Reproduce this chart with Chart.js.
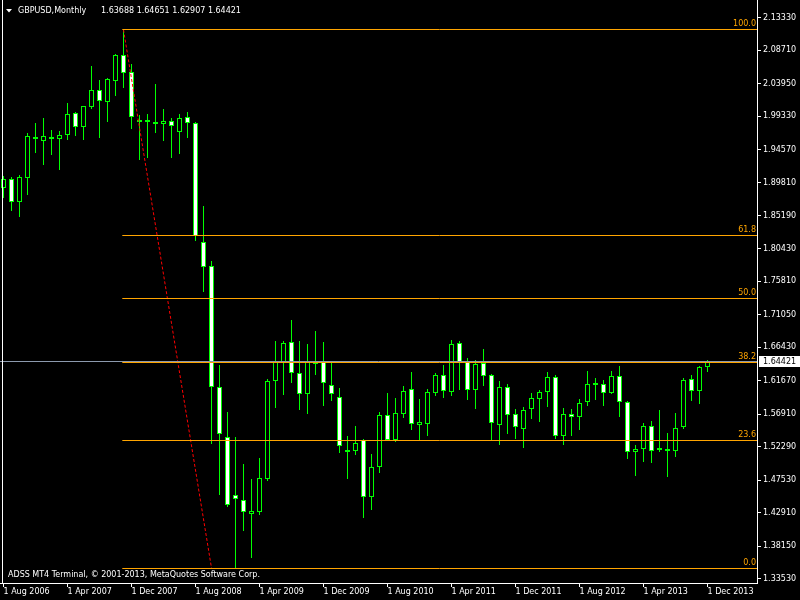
<!DOCTYPE html>
<html lang="en">
<head>
  <meta charset="UTF-8" />
  <title>GBPUSD, Monthly</title>
  <script src="https://cdn.jsdelivr.net/npm/chart.js@4.4.0/dist/chart.umd.min.js"></script>
  <style>
    html, body { margin: 0; padding: 0; background: #000; }
    #chart { display: block; }
  </style>
</head>
<body>
  <canvas id="chart" width="800" height="600"></canvas>

  <script>
    // GBPUSD monthly candles, one per month from Aug 2006 to Dec 2013
    const opens = [
      1.8902, 1.9033, 1.8703, 1.9056, 1.9639, 1.9573, 1.9613, 1.9610, 1.9667, 1.9972,
      1.9781, 2.0066, 2.0299, 2.0137, 2.0435, 2.0797, 2.0555, 1.9841, 1.9848, 1.9824,
      1.9824, 1.9858, 1.9710, 1.9915, 1.9829, 1.8137, 1.7795, 1.6078, 1.5363, 1.4538,
      1.4471, 1.4276, 1.4304, 1.4774, 1.6168, 1.6438, 1.6714, 1.6273, 1.5974, 1.6405,
      1.6430, 1.6103, 1.5932, 1.5149, 1.5172, 1.5329, 1.4518, 1.4936, 1.5676, 1.5329,
      1.5699, 1.6046, 1.5542, 1.5556, 1.5997, 1.6249, 1.6011, 1.6704, 1.6444, 1.6040,
      1.6420, 1.6249, 1.5542, 1.6078, 1.5694, 1.5485, 1.5770, 1.5912, 1.6011, 1.6221,
      1.5386, 1.5694, 1.5656, 1.5869, 1.6111, 1.6121, 1.5997, 1.6235, 1.5865, 1.5149,
      1.5203, 1.5524, 1.5182, 1.5172, 1.5172, 1.5514, 1.6192, 1.6026, 1.63688
    ];
    const highs = [
      1.9080, 1.9066, 1.9094, 1.9687, 1.9829, 1.9901, 1.9734, 1.9720, 2.0114, 1.9994,
      2.0071, 2.0645, 2.0445, 2.0470, 2.0815, 2.1161, 2.0673, 1.9948, 1.9962, 2.0388,
      2.0033, 1.9905, 1.9962, 1.9990, 1.9841, 1.8653, 1.7871, 1.6391, 1.5718, 1.5363,
      1.4983, 1.4770, 1.5068, 1.6192, 1.6733, 1.6733, 1.7031, 1.6733, 1.6690, 1.6875,
      1.6718, 1.6444, 1.6064, 1.5381, 1.5524, 1.5335, 1.5125, 1.5723, 1.5993, 1.5922,
      1.6093, 1.6292, 1.5908, 1.6050, 1.6277, 1.6391, 1.6747, 1.6733, 1.6487, 1.6458,
      1.6619, 1.6263, 1.6164, 1.6121, 1.5765, 1.5794, 1.5993, 1.6036, 1.6292, 1.6249,
      1.5780, 1.5765, 1.5908, 1.6306, 1.6206, 1.6178, 1.6306, 1.6377, 1.5879, 1.5253,
      1.5562, 1.5595, 1.5751, 1.5424, 1.5708, 1.6206, 1.6249, 1.6377, 1.64651
    ];
    const lows = [
      1.8760, 1.8586, 1.8501, 1.8810, 1.9411, 1.9236, 1.9378, 1.9165, 1.9592, 1.9653,
      1.9592, 2.0033, 1.9625, 1.9852, 2.0222, 2.0336, 1.9744, 1.9307, 1.9340, 1.9696,
      1.9578, 1.9340, 1.9397, 1.9625, 1.8159, 1.7434, 1.5263, 1.4542, 1.4376, 1.3503,
      1.4034, 1.3650, 1.4258, 1.4741, 1.5780, 1.5965, 1.6139, 1.5751, 1.5699, 1.6249,
      1.5808, 1.5883, 1.5144, 1.4770, 1.5115, 1.4215, 1.4329, 1.4859, 1.5314, 1.5300,
      1.5637, 1.5467, 1.5324, 1.5381, 1.5950, 1.5922, 1.5950, 1.6036, 1.5893, 1.5765,
      1.6093, 1.5310, 1.5253, 1.5410, 1.5339, 1.5211, 1.5623, 1.5580, 1.5794, 1.5339,
      1.5253, 1.5386, 1.5471, 1.5808, 1.5893, 1.5808, 1.5979, 1.5652, 1.5054, 1.4812,
      1.5016, 1.5001, 1.5154, 1.4802, 1.5087, 1.5485, 1.5879, 1.5836, 1.62907
    ];
    const closes = [
      1.9033, 1.8703, 1.9061, 1.9645, 1.9602, 1.9645, 1.9635, 1.9659, 1.9957, 1.9781,
      2.0071, 2.0299, 2.0151, 2.0455, 2.0797, 2.0541, 1.9915, 1.9862, 1.9855, 1.9852,
      1.9862, 1.9795, 1.9905, 1.9829, 1.8226, 1.7790, 1.6074, 1.5406, 1.4396, 1.4481,
      1.4304, 1.4314, 1.4784, 1.6164, 1.6444, 1.6700, 1.6273, 1.5974, 1.6430, 1.6427,
      1.6131, 1.5974, 1.5235, 1.5178, 1.5286, 1.4518, 1.4936, 1.5676, 1.5329, 1.5704,
      1.6021, 1.5548, 1.5580, 1.6007, 1.6249, 1.6017, 1.6690, 1.6438, 1.6040, 1.6405,
      1.6239, 1.5571, 1.6078, 1.5684, 1.5514, 1.5751, 1.5922, 1.6007, 1.6221, 1.5386,
      1.5694, 1.5656, 1.5851, 1.6121, 1.6121, 1.5997, 1.6235, 1.5861, 1.5147, 1.5196,
      1.5524, 1.5172, 1.5192, 1.5196, 1.5495, 1.6178, 1.6021, 1.6363, 1.64421
    ];

    // time axis: bar index of each label
    const dateTicks = [0, 8, 16, 24, 32, 40, 48, 56, 64, 72, 80, 88];
    const dateLabels = ['1 Aug 2006', '1 Apr 2007', '1 Dec 2007', '1 Aug 2008', '1 Apr 2009', '1 Dec 2009',
      '1 Aug 2010', '1 Apr 2011', '1 Dec 2011', '1 Aug 2012', '1 Apr 2013', '1 Dec 2013'];

    // price axis labels
    const priceTicks = [2.13330, 2.08710, 2.03950, 1.99330, 1.94570, 1.89810, 1.85190, 1.80430, 1.75810,
      1.71050, 1.66430, 1.61670, 1.56910, 1.52290, 1.47530, 1.42910, 1.38150, 1.33530];

    // fibonacci retracement
    const fibLevels = [0, 23.6, 38.2, 50, 61.8, 100];
    const fibHigh = Math.max(...highs);
    const fibLow = Math.min(...lows);
    const fibStart = highs.indexOf(fibHigh);
    const fibEnd = 26;

    const last = closes.length - 1;
    const bid = closes[last];

    const xMin = -0.4375, xMax = 94.1875;
    const yMin = 1.32902, yMax = 2.15834;

    const LIME = '#00ff00';
    const ORANGE = '#ffa500';
    const FONT = '8px "DejaVu Sans"';

    const fibPrice = l => fibLow + (fibHigh - fibLow) * l / 100;

    const bodies = opens.map((o, i) => ({ x: i, y: [Math.min(o, closes[i]), Math.max(o, closes[i])] }));
    const wicks = lows.map((l, i) => ({ x: i, y: [l, highs[i]] }));
    const bodyFill = opens.map((o, i) => closes[i] >= o ? '#000000' : '#ffffff');

    const lineDs = (data, color, extra) => Object.assign({
      type: 'line', data, borderColor: color, borderWidth: 1, pointRadius: 0,
      fill: false, tension: 0, order: 0, snapY: true
    }, extra || {});

    const datasets = [
      {
        type: 'bar', data: bodies, backgroundColor: bodyFill, borderColor: LIME, borderWidth: 1,
        borderSkipped: false, barThickness: 5, minBarLength: 2, grouped: false, inflateAmount: 0, order: 1
      },
      {
        type: 'bar', data: wicks, backgroundColor: LIME, borderWidth: 0,
        barThickness: 1, grouped: false, inflateAmount: 0, order: 2
      },
      lineDs([{ x: xMin, y: bid }, { x: xMax, y: bid }], '#8c9aae'),
      ...fibLevels.map(l => lineDs([{ x: fibStart - 0.15, y: fibPrice(l) }, { x: xMax, y: fibPrice(l) }], ORANGE)),
      lineDs([{ x: fibStart, y: fibHigh }, { x: fibEnd, y: fibLow }], '#ff0000', { borderDash: [3, 2], snapY: false })
    ];

    // MT4 draws on whole pixels: round the element edges the scales gave
    const snap = {
      id: 'snap',
      beforeDatasetsDraw(chart) {
        chart.data.datasets.forEach((ds, i) => {
          const meta = chart.getDatasetMeta(i);
          meta.data.forEach(el => {
            if (meta.type === 'bar') {
              const top = Math.round(Math.min(el.y, el.base));
              let bot = Math.round(Math.max(el.y, el.base));
              const minH = ds.barThickness > 1 ? 2 : 1;
              if (bot - top < minH) bot = top + minH;
              el.y = top;
              el.base = bot;
            } else if (ds.snapY) {
              el.y = Math.floor(el.y) + 0.5;
            }
          });
        });
      }
    };

    // texts that MT4 paints on top of the chart
    const overlay = {
      id: 'overlay',
      afterDraw(chart) {
        const { ctx, chartArea: a, scales: { y } } = chart;
        ctx.save();
        ctx.font = FONT;

        // left window edge
        ctx.fillStyle = '#ffffff';
        ctx.fillRect(2, 0, 1, a.bottom);

        // fib level labels
        ctx.fillStyle = ORANGE;
        ctx.textAlign = 'right';
        ctx.textBaseline = 'bottom';
        fibLevels.forEach(l => {
          ctx.fillText(l.toFixed(1), a.right - 1, Math.floor(y.getPixelForValue(fibPrice(l))) - 1);
        });

        // current price box on the axis
        const py = y.getPixelForValue(bid);
        ctx.fillStyle = '#ffffff';
        ctx.fillRect(a.right + 2, Math.round(py - 5.5), chart.width - a.right - 2, 11);
        ctx.fillStyle = '#000000';
        ctx.textAlign = 'left';
        ctx.textBaseline = 'middle';
        ctx.fillText(bid.toFixed(5), a.right + 6, py + 0.5);

        // header
        ctx.fillStyle = '#ffffff';
        ctx.beginPath();
        ctx.moveTo(6, 9);
        ctx.lineTo(12, 9);
        ctx.lineTo(9, 12.5);
        ctx.closePath();
        ctx.fill();
        ctx.fillText('GBPUSD,Monthly', 18, 11);
        ctx.fillText([opens[last], highs[last], lows[last], closes[last]].map(v => v.toFixed(5)).join(' '), 101, 11);

        // copyright
        ctx.fillText('ADSS MT4 Terminal, \u00a9 2001-2013, MetaQuotes Software Corp.', 8, 575);
        ctx.restore();
      }
    };

    Chart.defaults.font.family = '"DejaVu Sans"';
    Chart.defaults.font.size = 8;
    Chart.defaults.color = '#ffffff';

    new Chart(document.getElementById('chart'), {
      type: 'bar',
      data: { datasets },
      plugins: [snap, overlay],
      options: {
        responsive: false,
        animation: false,
        events: [],
        layout: { padding: 0 },
        plugins: { legend: { display: false }, tooltip: { enabled: false } },
        scales: {
          x: {
            type: 'linear',
            min: xMin,
            max: xMax,
            offset: false,
            grid: { offset: false, drawOnChartArea: false, tickLength: 4, color: '#ffffff' },
            border: { display: true, color: '#ffffff' },
            ticks: {
              color: '#ffffff', align: 'start', padding: 0, maxRotation: 0, minRotation: 0, autoSkip: false,
              callback: (v, i) => dateLabels[i]
            },
            afterBuildTicks: s => { s.ticks = dateTicks.map(v => ({ value: v })); },
            afterFit: s => { s.height = 17; s.paddingLeft = 0; s.paddingRight = 0; }
          },
          y: {
            type: 'linear',
            position: 'right',
            min: yMin,
            max: yMax,
            grid: { drawOnChartArea: false, tickLength: 4, color: '#ffffff' },
            border: { display: true, color: '#ffffff' },
            ticks: { color: '#ffffff', padding: 2, callback: v => v.toFixed(5) },
            afterBuildTicks: s => { s.ticks = priceTicks.map(v => ({ value: v })); },
            afterFit: s => { s.width = 43; s.paddingTop = 0; s.paddingBottom = 0; }
          }
        }
      }
    });
  </script>
</body>
</html>
